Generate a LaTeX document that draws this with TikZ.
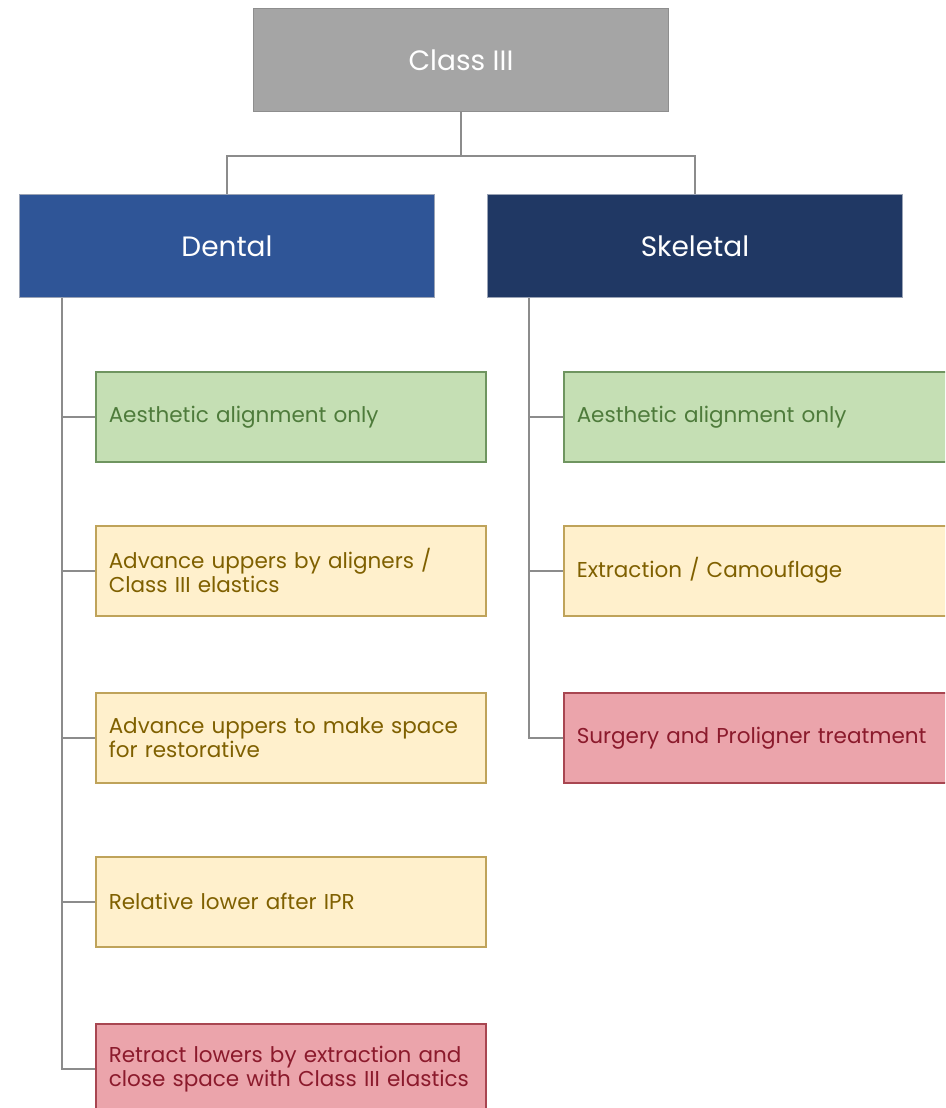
\documentclass[tikz,border=0pt]{standalone}
\usepackage{fontspec}
\setmainfont{Poppins}
\definecolor{rootfill}{HTML}{A5A5A5}
\definecolor{rootline}{HTML}{8E8E8E}
\definecolor{dentfill}{HTML}{2F5597}
\definecolor{skelfill}{HTML}{203864}
\definecolor{hdrline}{HTML}{9AA3B5}
\definecolor{grnfill}{HTML}{C5DFB4}
\definecolor{grnline}{HTML}{6F9560}
\definecolor{grntext}{HTML}{4E7B3B}
\definecolor{ylwfill}{HTML}{FFF0CC}
\definecolor{ylwline}{HTML}{BFA35A}
\definecolor{ylwtext}{HTML}{7F6000}
\definecolor{redfill}{HTML}{EBA4AB}
\definecolor{redline}{HTML}{A84651}
\definecolor{redtext}{HTML}{8B1A2C}
\definecolor{connline}{HTML}{8C8C8C}
\begin{document}
\begin{tikzpicture}[x=1pt,y=-1pt,
  hdr/.style={rectangle, anchor=north west, minimum width=415pt, minimum height=103pt,
    inner sep=0pt, text=white, font=\fontsize{28}{32}\selectfont, line width=1pt},
  leaf/.style={rectangle, anchor=north west, text width=364pt, inner xsep=13pt,
    minimum height=90pt, align=left, line width=1.5pt,
    font=\fontsize{21.5}{24}\selectfont},
  green/.style={leaf, fill=grnfill, draw=grnline, text=grntext},
  yellow/.style={leaf, fill=ylwfill, draw=ylwline, text=ylwtext},
  red/.style={leaf, fill=redfill, draw=redline, text=redtext},
  conn/.style={draw=connline, line width=1.5pt}]
\useasboundingbox (0,0) rectangle (945,1108);
\clip (0,0) rectangle (945,1108);

% top level and the two branches
\node[hdr, fill=rootfill, draw=rootline] (root) at (253,8) {Class III};
\node[hdr, fill=dentfill, draw=hdrline] (dental) at (19,194) {Dental};
\node[hdr, fill=skelfill, draw=hdrline] (skeletal) at (487,194) {Skeletal};

% dental options
\node[green]  (d1) at (95,371) {Aesthetic alignment only};
\node[yellow] (d2) at (95,525) {Advance uppers by aligners /\\Class III elastics};
\node[yellow] (d3) at (95,692) {Advance uppers to make space\\for restorative};
\node[yellow] (d4) at (95,856) {Relative lower after IPR};
\node[red]    (d5) at (95,1023) {Retract lowers by extraction and\\close space with Class III elastics};

% skeletal options
\node[green]  (s1) at (563,371) {Aesthetic alignment only};
\node[yellow] (s2) at (563,525) {Extraction / Camouflage};
\node[red]    (s3) at (563,692) {Surgery and Proligner treatment};

% connectors
\coordinate (bus) at (461,156);
\draw[conn] (root.south) -- (bus);
\draw[conn] (dental.north) |- (bus) -| (skeletal.north);
\foreach \c in {d1,d2,d3,d4,d5}
  \draw[conn] (dental.south west) ++(43,0) |- (\c.west);
\foreach \c in {s1,s2,s3}
  \draw[conn] (skeletal.south west) ++(42,0) |- (\c.west);
\end{tikzpicture}
\end{document}
